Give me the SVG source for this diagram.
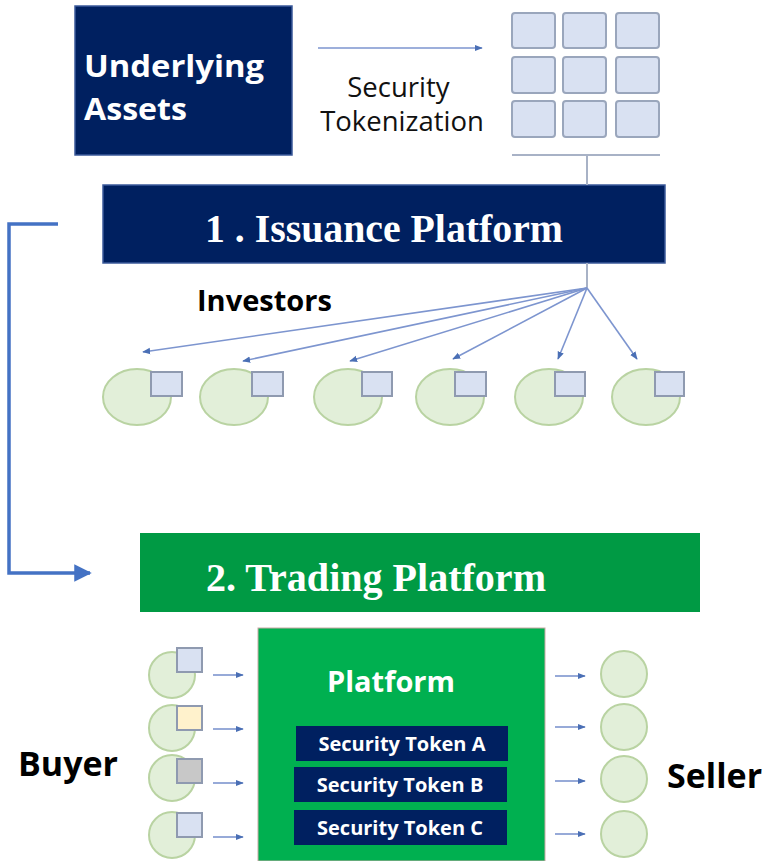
<svg xmlns="http://www.w3.org/2000/svg" width="767" height="861" viewBox="0 0 767 861">
  <defs>
    <marker id="thin" viewBox="0 0 10 10" refX="9" refY="5" markerWidth="8" markerHeight="8" markerUnits="userSpaceOnUse" orient="auto">
      <path d="M0,1 L10,5 L0,9 Z" fill="#4a6fb5"/>
    </marker>
    <marker id="bold" viewBox="0 0 10 10" refX="9" refY="5" markerWidth="5" markerHeight="5" orient="auto">
      <path d="M0,0 L10,5 L0,10 Z" fill="#4472c4"/>
    </marker>
    <style>
      .navy { fill: #002060; }
      .cell { fill: #d9e1f2; stroke: #9aa6bc; stroke-width: 2; }
      .inv { fill: #e2efd9; stroke: #b9d3a2; stroke-width: 2; }
      .tok { stroke: #8f9ab0; stroke-width: 2; }
      .fan { fill: none; stroke: #7d95cf; stroke-width: 1.6; marker-end: url(#thin); }
      .flow { fill: none; stroke: #7d95cf; stroke-width: 1.6; marker-end: url(#thin); }
      .sans { font-family: "Open Sans", "Noto Sans", "Liberation Sans", sans-serif; }
      .serif { font-family: "Liberation Serif", "DejaVu Serif", serif; font-weight: bold; fill: #ffffff; }
      .wb { fill: #ffffff; font-weight: bold; }
      .kb { fill: #000000; font-weight: bold; }
    </style>
  </defs>

  <!-- underlying assets -->
  <g id="assets">
    <rect class="navy" x="75" y="6" width="217" height="149" stroke="#3b5a9a" stroke-width="1.5"/>
    <text class="sans wb" font-size="31">
      <tspan x="84" y="77" textLength="180" lengthAdjust="spacingAndGlyphs">Underlying</tspan>
      <tspan x="84" y="120" textLength="103" lengthAdjust="spacingAndGlyphs">Assets</tspan>
    </text>
  </g>

  <!-- tokenization label -->
  <g id="tokenization">
    <text class="sans" font-size="27.5" text-anchor="middle" fill="#111">
      <tspan x="402" y="97">Security</tspan>
      <tspan x="402" y="131">Tokenization</tspan>
    </text>
  </g>

  <!-- token grid -->
  <g id="token-grid">
    <rect class="cell" x="512" y="13" width="43" height="35" rx="3"/>
    <rect class="cell" x="563" y="13" width="43" height="35" rx="3"/>
    <rect class="cell" x="616" y="13" width="43" height="35" rx="3"/>
    <rect class="cell" x="512" y="57" width="43" height="36" rx="3"/>
    <rect class="cell" x="563" y="57" width="43" height="36" rx="3"/>
    <rect class="cell" x="616" y="57" width="43" height="36" rx="3"/>
    <rect class="cell" x="512" y="101" width="43" height="36" rx="3"/>
    <rect class="cell" x="563" y="101" width="43" height="36" rx="3"/>
    <rect class="cell" x="616" y="101" width="43" height="36" rx="3"/>
  </g>

  <!-- issuance platform -->
  <g id="issuance">
    <rect class="navy" x="103" y="185" width="562" height="78" stroke="#3b5a9a" stroke-width="1.5"/>
    <text class="serif" x="384" y="242" font-size="39" text-anchor="middle" textLength="358" lengthAdjust="spacingAndGlyphs">1 . Issuance Platform</text>
  </g>

  <g id="investors-label">
    <text class="sans kb" x="197" y="311" font-size="29">Investors</text>
  </g>

  <!-- investors -->
  <g id="investor-1">
    <ellipse class="inv" cx="137" cy="397" rx="34" ry="28"/>
    <rect class="tok" x="151" y="372" width="31" height="24" fill="#d9e1f2"/>
  </g>
  <g id="investor-2">
    <ellipse class="inv" cx="234" cy="397" rx="34" ry="28"/>
    <rect class="tok" x="252" y="372" width="31" height="24" fill="#d9e1f2"/>
  </g>
  <g id="investor-3">
    <ellipse class="inv" cx="348" cy="397" rx="34" ry="28"/>
    <rect class="tok" x="362" y="372" width="30" height="24" fill="#d9e1f2"/>
  </g>
  <g id="investor-4">
    <ellipse class="inv" cx="450" cy="397" rx="34" ry="28"/>
    <rect class="tok" x="455" y="372" width="31" height="24" fill="#d9e1f2"/>
  </g>
  <g id="investor-5">
    <ellipse class="inv" cx="549" cy="397" rx="34" ry="28"/>
    <rect class="tok" x="555" y="372" width="30" height="24" fill="#d9e1f2"/>
  </g>
  <g id="investor-6">
    <ellipse class="inv" cx="646" cy="397" rx="34" ry="28"/>
    <rect class="tok" x="655" y="372" width="29" height="24" fill="#d9e1f2"/>
  </g>

  <!-- trading platform -->
  <g id="trading">
    <rect x="140" y="533" width="560" height="79" fill="#009a44"/>
    <text class="serif" x="206" y="591" font-size="40" textLength="340" lengthAdjust="spacingAndGlyphs">2. Trading Platform</text>
  </g>

  <!-- matching platform with listed tokens -->
  <g id="platform">
    <rect x="258" y="628" width="287" height="233" fill="#00b050" stroke="#c9a9a6" stroke-width="1"/>
    <text class="sans wb" x="391" y="692" font-size="29" text-anchor="middle">Platform</text>
  </g>
  <g id="token-a">
    <rect class="navy" x="296" y="726" width="212" height="35"/>
    <text class="sans wb" x="402" y="751" font-size="20" text-anchor="middle">Security Token A</text>
  </g>
  <g id="token-b">
    <rect class="navy" x="294" y="767" width="213" height="35"/>
    <text class="sans wb" x="400" y="792" font-size="20" text-anchor="middle">Security Token B</text>
  </g>
  <g id="token-c">
    <rect class="navy" x="294" y="810" width="213" height="35"/>
    <text class="sans wb" x="400" y="835" font-size="20" text-anchor="middle">Security Token C</text>
  </g>

  <!-- buyers -->
  <g id="buyer-1">
    <circle class="inv" cx="172" cy="675" r="23"/>
    <rect class="tok" x="177" y="648" width="25" height="24" fill="#d9e1f2"/>
  </g>
  <g id="buyer-2">
    <circle class="inv" cx="172" cy="728" r="23"/>
    <rect class="tok" x="177" y="706" width="25" height="24" fill="#fff2cc" stroke="#c9b98a"/>
  </g>
  <g id="buyer-3">
    <circle class="inv" cx="172" cy="778" r="23"/>
    <rect class="tok" x="177" y="759" width="25" height="24" fill="#c8c8c8" stroke="#8a8a8a"/>
  </g>
  <g id="buyer-4">
    <circle class="inv" cx="172" cy="835" r="23"/>
    <rect class="tok" x="177" y="813" width="25" height="24" fill="#d9e1f2"/>
  </g>
  <g id="buyer-label">
    <text class="sans kb" x="18" y="776" font-size="34">Buyer</text>
  </g>

  <!-- sellers -->
  <g id="seller-1"><circle class="inv" cx="624" cy="674" r="23"/></g>
  <g id="seller-2"><circle class="inv" cx="624" cy="727" r="23"/></g>
  <g id="seller-3"><circle class="inv" cx="624" cy="779" r="23"/></g>
  <g id="seller-4"><circle class="inv" cx="624" cy="834" r="23"/></g>
  <g id="seller-label">
    <text class="sans kb" x="667" y="788" font-size="34">Seller</text>
  </g>

  <!-- connectors -->
  <g id="connectors">
    <line x1="318" y1="48" x2="482" y2="48" stroke="#7d95cf" stroke-width="1.6" marker-end="url(#thin)"/>
    <line x1="512" y1="155" x2="660" y2="155" stroke="#a8b2c6" stroke-width="2"/>
    <line x1="587" y1="155" x2="587" y2="185" stroke="#a8b2c6" stroke-width="2"/>
    <line x1="587" y1="263" x2="587" y2="288" stroke="#a8b2c6" stroke-width="2"/>
    <line class="fan" x1="587" y1="288" x2="143" y2="352"/>
    <line class="fan" x1="587" y1="288" x2="243" y2="361"/>
    <line class="fan" x1="587" y1="288" x2="350" y2="361"/>
    <line class="fan" x1="587" y1="288" x2="453" y2="359"/>
    <line class="fan" x1="587" y1="288" x2="558" y2="359"/>
    <line class="fan" x1="587" y1="288" x2="637" y2="359"/>
    <polyline points="58,224 9,224 9,573 90,573" fill="none" stroke="#4472c4" stroke-width="3.5" marker-end="url(#bold)"/>
    <line class="flow" x1="213" y1="675" x2="243" y2="675"/>
    <line class="flow" x1="213" y1="729" x2="243" y2="729"/>
    <line class="flow" x1="213" y1="783" x2="243" y2="783"/>
    <line class="flow" x1="213" y1="837" x2="243" y2="837"/>
    <line class="flow" x1="555" y1="676" x2="585" y2="676"/>
    <line class="flow" x1="555" y1="727" x2="585" y2="727"/>
    <line class="flow" x1="555" y1="781" x2="585" y2="781"/>
    <line class="flow" x1="555" y1="834" x2="585" y2="834"/>
  </g>
</svg>
